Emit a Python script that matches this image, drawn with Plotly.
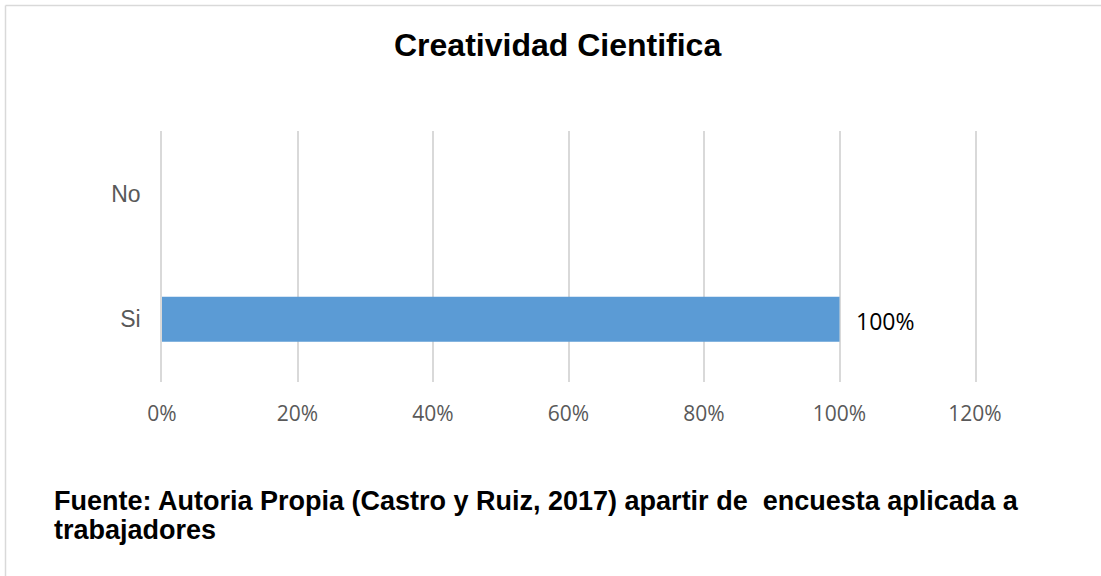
import plotly.graph_objects as go

categories = ["Si", "No"]
values = [1.0, 0.0]
labels = ["100%", ""]
tick_vals = [0, 0.2, 0.4, 0.6, 0.8, 1.0, 1.2]
tick_text = ["0%", "20%", "40%", "60%", "80%", "100%", "120%"]
title = "Creatividad Cientifica"
source_line1 = "Fuente: Autoria Propia (Castro y Ruiz, 2017) apartir de \u00a0encuesta aplicada a"
source_line2 = "trabajadores"

W, H = 1101, 576
L, R, T, B = 162, 975, 131, 382

def px(p):
    return (p - L) / (R - L)

def py(p):
    return (B - p) / (B - T)

fig = go.Figure()
fig.add_trace(go.Bar(
    x=values, y=categories, orientation="h",
    marker=dict(color="#5B9BD5", line=dict(width=0)),
    width=0.36,
    hoverinfo="skip",
))

for v, c, t in zip(values, categories, labels):
    if t:
        fig.add_annotation(text=t, x=v, y=c, xref="x", yref="y",
                           xanchor="left", yanchor="middle", xshift=14, yshift=-2,
                           showarrow=False,
                           font=dict(family="Open Sans", size=23, color="#000000"))

fig.update_layout(
    width=W, height=H,
    margin=dict(l=L, r=W - R, t=T, b=H - B, pad=0),
    paper_bgcolor="white", plot_bgcolor="white",
    showlegend=False,
    xaxis=dict(range=[0, 1.2], tickvals=tick_vals, ticktext=tick_text,
               showgrid=True, gridcolor="#d9d9d9", gridwidth=1.5,
               zeroline=False, showline=False, ticks="",
               tickfont=dict(family="Open Sans", size=21, color="#595959"),
               ticklabelstandoff=17, fixedrange=True),
    yaxis=dict(categoryorder="array", categoryarray=categories,
               showgrid=False, zeroline=False,
               showline=True, mirror=True, linecolor="#d9d9d9", linewidth=1.5,
               ticks="",
               tickfont=dict(family="Liberation Sans, Arial", size=23, color="#595959"),
               ticklabelstandoff=15, fixedrange=True),
)

fig.add_annotation(text="<b>" + title + "</b>", xref="paper", yref="paper",
                   x=px(557), y=py(45), xanchor="center", yanchor="middle",
                   showarrow=False,
                   font=dict(family="Liberation Sans, Arial", size=32, color="#000000"))
fig.add_annotation(text="<b>" + source_line1 + "</b>", xref="paper", yref="paper",
                   x=px(52), y=py(501), xanchor="left", yanchor="middle",
                   showarrow=False,
                   font=dict(family="Liberation Sans, Arial", size=27, color="#000000"))
fig.add_annotation(text="<b>" + source_line2 + "</b>", xref="paper", yref="paper",
                   x=px(52), y=py(530), xanchor="left", yanchor="middle",
                   showarrow=False,
                   font=dict(family="Liberation Sans, Arial", size=27, color="#000000"))

# outer border (top and left edges visible)
fig.add_shape(type="line", xref="paper", yref="paper",
              x0=px(5.5), x1=px(1105), y0=py(5.5), y1=py(5.5),
              line=dict(color="#d9d9d9", width=1.5))
fig.add_shape(type="line", xref="paper", yref="paper",
              x0=px(5.5), x1=px(5.5), y0=py(5.5), y1=py(580),
              line=dict(color="#d9d9d9", width=1.5))

fig.write_html("out.html", config={"displayModeBar": False})
